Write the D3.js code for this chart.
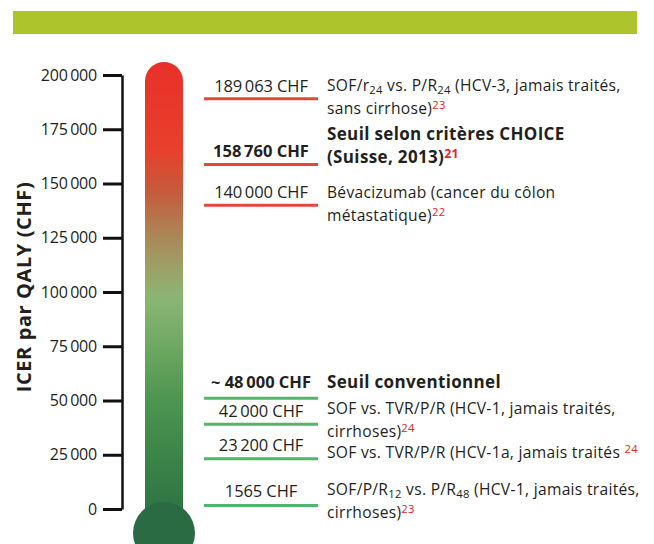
<!DOCTYPE html>
<html>
<head>
<meta charset="utf-8">
<script src="https://cdn.jsdelivr.net/npm/d3@7"></script>
<style>
  html, body { margin: 0; padding: 0; background: #ffffff; }
  svg { display: block; }
  text { font-family: "Open Sans", Lato, sans-serif; fill: #231f20; }
</style>
</head>
<body>
<svg id="chart" width="654" height="544"></svg>
<script>
// ---------------- DATA ----------------
const axisTitle = "ICER par QALY (CHF)";
const tickValues = [0, 25000, 50000, 75000, 100000, 125000, 150000, 175000, 200000];
const markerValues = [189063, 158760, 140000, 48000, 42000, 23200, 1565];
const markerApprox = [false, false, false, true, false, false, false];
const markerKinds = ["study", "threshold", "study", "threshold", "study", "study", "study"];
const markerDescriptions = [
  ["SOF/r_{24} vs. P/R_{24} (HCV-3, jamais traités,", "sans cirrhose)^{23}"],
  ["Seuil selon critères CHOICE", "(Suisse, 2013)^{21}"],
  ["Bévacizumab (cancer du côlon", "métastatique)^{22}"],
  ["Seuil conventionnel"],
  ["SOF vs. TVR/P/R (HCV-1, jamais traités,", "cirrhoses)^{24}"],
  ["SOF vs. TVR/P/R (HCV-1a, jamais traités ^{24}"],
  ["SOF/P/R_{12} vs. P/R_{48} (HCV-1, jamais traités,", "cirrhoses)^{23}"]
];

// ---------------- LAYOUT (pixels, not data) ----------------
const valueDy = [-7, -7, -7, -10, -7, -8, -9];
const descDy  = [-8, -24, -7, -10, -10, -1, -11];
const lineH = 23;
const minGap = 26;

const svg = d3.select("#chart");

// banner
svg.append("rect").attr("x", 13).attr("y", 11).attr("width", 624).attr("height", 23).attr("fill", "#aec42c");

const y = d3.scaleLinear().domain([0, 200000]).range([509, 75]);

const fr = d3.formatLocale({decimal: ",", thousands: "\u2009", grouping: [3], currency: ["", ""]});
const fmtAxis = fr.format(",d");
const fmtVal = v => (v >= 10000 ? fr.format(",d")(v) : d3.format("d")(v));

// thermometer gradient
const defs = svg.append("defs");
const grad = defs.append("linearGradient").attr("id", "thermo")
  .attr("gradientUnits", "userSpaceOnUse").attr("x1", 0).attr("x2", 0).attr("y1", 62).attr("y2", 533);
[[62, "#e8302a"], [150, "#e8402c"], [190, "#c65a3a"], [240, "#a98a5a"], [272, "#9aa468"],
 [300, "#89b674"], [346, "#6ea862"], [400, "#4d9551"], [454, "#3c8548"], [509, "#2f7544"], [533, "#2b6c43"]]
  .forEach(([p, c]) => grad.append("stop").attr("offset", ((p - 62) / (533 - 62))).attr("stop-color", c));

const tubeX = 145, tubeW = 38;
svg.append("rect").attr("x", tubeX).attr("y", 62).attr("width", tubeW).attr("height", 533 - 62 + 10)
  .attr("rx", tubeW / 2).attr("fill", "url(#thermo)");
svg.append("rect").attr("x", tubeX).attr("y", 120).attr("width", tubeW).attr("height", 420)
  .attr("fill", "url(#thermo)");
svg.append("circle").attr("cx", tubeX + tubeW / 2).attr("cy", 533).attr("r", 31).attr("fill", "#2b6b43");

// axis
const axis = d3.axisLeft(y).tickValues(tickValues).tickFormat(fmtAxis).tickSize(19).tickSizeOuter(0).tickPadding(6);
const gA = svg.append("g").attr("transform", "translate(122,0)").call(axis);
gA.select(".domain").attr("stroke", "#111").attr("stroke-width", 2.5);
gA.selectAll(".tick line").attr("stroke", "#111").attr("stroke-width", 3);
gA.selectAll(".tick text").attr("font-size", 16).attr("font-family", "'Open Sans', sans-serif")
  .attr("fill", "#231f20").attr("letter-spacing", -0.2);

// axis title
svg.append("text").attr("transform", "translate(31,287) rotate(-90)")
  .attr("text-anchor", "middle").attr("font-weight", "bold").attr("font-size", 20)
  .attr("letter-spacing", 0.6).text(axisTitle);

// dodge line positions to avoid overlap
function dodge(vals, gap) {
  const order = d3.range(vals.length).sort((a, b) => y(vals[a]) - y(vals[b]));
  let clusters = order.map(i => ({members: [i], desired: [y(vals[i])], pos: y(vals[i])}));
  let changed = true;
  while (changed) {
    changed = false;
    for (let k = 0; k < clusters.length - 1; k++) {
      const a = clusters[k], b = clusters[k + 1];
      const aEnd = a.pos + (a.members.length - 1) * gap;
      if (b.pos - aEnd < gap) {
        const members = a.members.concat(b.members);
        const desired = a.desired.concat(b.desired);
        const pos = d3.mean(desired.map((d, j) => d - j * gap));
        clusters.splice(k, 2, {members, desired, pos});
        changed = true;
        break;
      }
    }
  }
  const out = new Array(vals.length);
  clusters.forEach(c => c.members.forEach((m, j) => out[m] = c.pos + j * gap));
  return out;
}
const lineY = dodge(markerValues, minGap);

const lineX0 = 204, lineX1 = 318, descX = 327;
const markers = svg.append("g");

function addRich(textSel, str) {
  const re = /(_\{[^}]*\}|\^\{[^}]*\})/g;
  const parts = str.split(re).filter(s => s.length);
  let shifted = 0;
  parts.forEach(p => {
    if (p.startsWith("_{")) {
      textSel.append("tspan").attr("font-size", "0.72em").attr("dy", 3).text(p.slice(2, -1));
      shifted = 3;
    } else if (p.startsWith("^{")) {
      textSel.append("tspan").attr("font-size", "0.72em").attr("dy", -5 - shifted).attr("fill", "#e3262a")
        .text(p.slice(2, -1));
      shifted = -5;
    } else {
      textSel.append("tspan").attr("dy", -shifted).text(p);
      shifted = 0;
    }
  });
}

markerValues.forEach((v, i) => {
  const L = lineY[i];
  const col = v > 100000 ? "#e2473a" : "#55b46c";
  const bold = markerKinds[i] === "threshold";
  markers.append("line").attr("x1", lineX0).attr("x2", lineX1).attr("y1", L).attr("y2", L)
    .attr("stroke", col).attr("stroke-width", 3);
  markers.append("text").attr("x", (lineX0 + lineX1) / 2).attr("y", L + valueDy[i])
    .attr("text-anchor", "middle").attr("font-size", 16.5)
    .attr("font-weight", bold ? "bold" : "normal")
    .attr("letter-spacing", bold ? 0 : -0.1)
    .text((markerApprox[i] ? "~ " : "") + fmtVal(v) + " CHF");
  markerDescriptions[i].forEach((ln, j) => {
    const t = markers.append("text").attr("x", descX).attr("y", L + descDy[i] + j * lineH)
      .attr("font-size", bold ? 17 : 15.6).attr("font-weight", bold ? "bold" : "normal")
      .attr("letter-spacing", bold ? 0.35 : 0.3);
    addRich(t, ln);
  });
});
</script>
</body>
</html>
